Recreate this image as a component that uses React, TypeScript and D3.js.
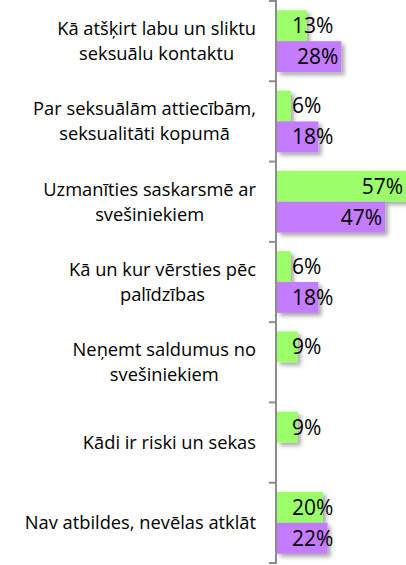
import React, { useEffect, useRef } from 'react';
import * as d3 from 'd3';

// category labels, line breaks as in the picture
const categories = [
  'Kā atšķirt labu un sliktu\nseksuālu kontaktu',
  'Par seksuālām attiecībām,\nseksualitāti kopumā',
  'Uzmanīties saskarsmē ar\nsvešiniekiem',
  'Kā un kur vērsties pēc\npalīdzības',
  'Neņemt saldumus no\nsvešiniekiem',
  'Kādi ir riski un sekas',
  'Nav atbildes, nevēlas atklāt',
];

const series_a = [13, 6, 57, 6, 9, 9, 20];
const series_b = [28, 18, 47, 18, null, null, 22];

const series = [
  { key: 'a', values: series_a, color: '#9bff6b' },
  { key: 'b', values: series_b, color: '#c47cff' },
];

export default function App() {
  const ref = useRef<SVGSVGElement>(null);
  const width = 406;
  const height = 565;

  useEffect(() => {
    const svg = d3.select(ref.current);
    svg.selectAll('*').remove();

    const axis_x = 277;
    const label_right = 256;

    // soft drop shadow under the bars
    const defs = svg.append('defs');
    const filter = defs
      .append('filter')
      .attr('id', 'shadow')
      .attr('x', '-10%')
      .attr('y', '-20%')
      .attr('width', '130%')
      .attr('height', '160%');
    filter
      .append('feDropShadow')
      .attr('dx', 3)
      .attr('dy', 3)
      .attr('stdDeviation', 2)
      .attr('flood-color', '#000')
      .attr('flood-opacity', 0.35);

    const y_scale = d3
      .scaleBand()
      .domain(categories.map((d, i) => String(i)))
      .range([1, 563])
      .paddingInner(0.23)
      .paddingOuter(0.115);

    const y_inner = d3
      .scaleBand()
      .domain(series.map((s) => s.key))
      .range([0, y_scale.bandwidth()]);

    const x_scale = d3.scaleLinear().domain([0, 57]).range([axis_x, axis_x + 131]);

    // bars
    series.forEach((s) => {
      svg
        .append('g')
        .attr('filter', 'url(#shadow)')
        .selectAll('rect')
        .data(s.values.map((v, i) => ({ v, i })).filter((d) => d.v != null))
        .join('rect')
        .attr('x', axis_x)
        .attr('y', (d) => y_scale(String(d.i))! + y_inner(s.key)!)
        .attr('width', (d) => x_scale(d.v as number) - axis_x)
        .attr('height', y_inner.bandwidth())
        .attr('fill', s.color);
    });

    // value labels
    series.forEach((s) => {
      s.values.forEach((v, i) => {
        if (v == null) return;
        const t = svg
          .append('text')
          .attr('font-family', '"Open Sans", sans-serif')
          .attr('font-size', 21)
          .attr('fill', '#000')
          .attr('y', y_scale(String(i))! + y_inner(s.key)! + y_inner.bandwidth() / 2 + 7.5)
          .text(`${v}%`);
        const w = (t.node() as SVGTextElement).getComputedTextLength();
        const x = Math.max(axis_x + 15, x_scale(v) - w - 3);
        t.attr('x', Math.min(x, width - 3 - w));
      });
    });

    // axis line and ticks
    const axis = svg.append('g').attr('stroke', '#8c8c8c').attr('stroke-width', 2);
    axis
      .append('line')
      .attr('x1', axis_x - 1)
      .attr('x2', axis_x - 1)
      .attr('y1', 0)
      .attr('y2', 564);
    const boundaries = categories.map((d, i) => y_scale(String(i))! - (y_scale.step() * 0.23) / 2);
    boundaries.push(boundaries[boundaries.length - 1] + y_scale.step());
    axis
      .selectAll('line.tick')
      .data(boundaries)
      .join('line')
      .attr('class', 'tick')
      .attr('x1', axis_x - 8)
      .attr('x2', axis_x - 1)
      .attr('y1', (d) => Math.max(1, Math.min(563, d)))
      .attr('y2', (d) => Math.max(1, Math.min(563, d)));

    // category labels: block right-aligned, lines centered within block
    categories.forEach((c, i) => {
      const lines = c.split('\n');
      const cy = y_scale(String(i))! + y_scale.bandwidth() / 2;
      const line_h = 25;
      const g = svg.append('g');
      const texts = lines.map((ln, j) =>
        g
          .append('text')
          .attr('font-family', '"Open Sans", sans-serif')
          .attr('font-size', 18.3)
          .attr('fill', '#000')
          .attr('text-anchor', 'middle')
          .attr('y', cy + (j - (lines.length - 1) / 2) * line_h + 6.5)
          .text(ln)
      );
      const max_w = d3.max(texts, (t) => (t.node() as SVGTextElement).getComputedTextLength()) || 0;
      texts.forEach((t) => t.attr('x', label_right - max_w / 2));
    });
  }, []);

  return (
    <svg
      ref={ref}
      width={width}
      height={height}
      style={{ position: 'absolute', left: 0, top: 0, background: '#fff' }}
    />
  );
}
